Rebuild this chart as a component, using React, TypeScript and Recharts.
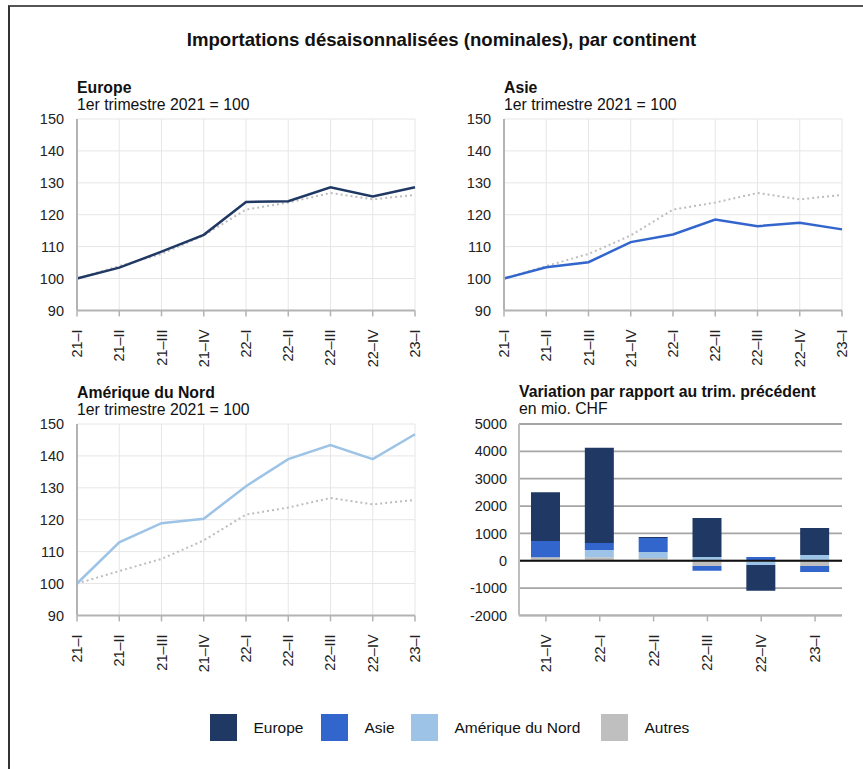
import React from 'react';
import {
  LineChart, Line, BarChart, Bar, XAxis, YAxis, CartesianGrid, ReferenceLine,
} from 'recharts';

const quarters = ['21–I', '21–II', '21–III', '21–IV', '22–I', '22–II', '22–III', '22–IV', '23–I'];
const europe = [100, 103.4, 108.4, 113.7, 124.0, 124.2, 128.6, 125.7, 128.6];
const asie = [100, 103.5, 105.1, 111.4, 113.8, 118.5, 116.4, 117.5, 115.4];
const amerique = [100, 112.9, 118.9, 120.3, 130.5, 139.0, 143.4, 139.0, 146.8];
const total = [100, 103.9, 107.7, 113.5, 121.6, 123.8, 126.8, 124.8, 126.2];

const varQuarters = ['21–IV', '22–I', '22–II', '22–III', '22–IV', '23–I'];
const varEurope = [1780, 3490, 35, 1430, -940, 990];
const varAsie = [590, 255, 515, -175, 135, -220];
const varAmerique = [0, 265, 220, 135, -160, 210];
const varAutres = [130, 125, 100, -195, 0, -195];

const indexTicks = [90, 100, 110, 120, 130, 140, 150];
const varTicks = [-2000, -1000, 0, 1000, 2000, 3000, 4000, 5000];

const C_EUROPE = '#203864';
const C_ASIE = '#3366cc';
const C_AMERIQUE = '#9dc3e6';
const C_AUTRES = '#bfbfbf';
const FONT = '"Liberation Sans", Arial, sans-serif';
const TICK_FS = 14.5;
const TITLE_FS = 15.8;

const lineData = quarters.map((q, i) => ({
  q, europe: europe[i], asie: asie[i], amerique: amerique[i], total: total[i],
}));
const barData = varQuarters.map((q, i) => ({
  q, europe: varEurope[i], asie: varAsie[i], amerique: varAmerique[i], autres: varAutres[i],
}));

const RotTick = ({ x, y, payload }: any) => (
  <text
    x={x} y={y + 11} transform={`rotate(-90 ${x} ${y + 11})`}
    textAnchor="end" dominantBaseline="central"
    fontSize={TICK_FS} fill="#222" fontFamily={FONT}
  >
    {payload.value}
  </text>
);

const tickStyle = { fontSize: TICK_FS, fill: '#222', fontFamily: FONT };

function Titles({ x, y, title, sub }: { x: number; y: number; title: string; sub: string }) {
  // y = baseline of the bold title
  const top = y - TITLE_FS * 0.8465;
  return (
    <>
      <div style={{ position: 'absolute', left: x, top, fontSize: TITLE_FS, lineHeight: `${TITLE_FS}px`, fontWeight: 700, color: '#111', whiteSpace: 'nowrap' }}>
        {title}
      </div>
      <div style={{ position: 'absolute', left: x, top: top + 16.6, fontSize: TITLE_FS, lineHeight: `${TITLE_FS}px`, color: '#111', whiteSpace: 'nowrap' }}>
        {sub}
      </div>
    </>
  );
}

function IndexPanel({ px, py, dataKey, color, title }: any) {
  const w = 338, h = 191.4;
  return (
    <>
      <Titles x={px} y={py - 26} title={title} sub="1er trimestre 2021 = 100" />
      <div style={{ position: 'absolute', left: px - 70, top: py - 10 }}>
        <LineChart width={w + 80} height={h + 70} data={lineData}
          margin={{ top: 10, right: 10, bottom: 10, left: 10 }}>
          <CartesianGrid stroke="#e6e6e6" strokeWidth={1} />
          <XAxis dataKey="q" interval={0} height={50} tick={<RotTick />}
            axisLine={{ stroke: '#b3b3b3', strokeWidth: 2 }}
            tickLine={{ stroke: '#b3b3b3', strokeWidth: 1.5 }} tickSize={6} />
          <YAxis width={60} domain={[90, 150]} ticks={indexTicks} interval={0}
            axisLine={{ stroke: '#b3b3b3', strokeWidth: 2 }} tickLine={false}
            tickMargin={7} tick={tickStyle} allowDataOverflow />
          <Line dataKey="total" stroke="#bdbdbd" strokeWidth={2} strokeDasharray="2 3"
            dot={false} isAnimationActive={false} />
          <Line dataKey={dataKey} stroke={color} strokeWidth={2.5}
            dot={false} isAnimationActive={false} />
        </LineChart>
      </div>
    </>
  );
}

function VarPanel() {
  const px = 519, py = 424.3, w = 323, h = 191.4;
  return (
    <>
      <Titles x={px} y={py - 27} title="Variation par rapport au trim. précédent" sub="en mio. CHF" />
      <div style={{ position: 'absolute', left: px - 70, top: py - 10 }}>
        <BarChart width={w + 80} height={h + 70} data={barData} stackOffset="sign"
          margin={{ top: 10, right: 10, bottom: 10, left: 10 }}>
          <CartesianGrid vertical={false} stroke="#a5a5a5" strokeWidth={1.8} />
          <XAxis dataKey="q" interval={0} height={50} tick={<RotTick />}
            axisLine={{ stroke: '#b3b3b3', strokeWidth: 2 }}
            tickLine={{ stroke: '#b3b3b3', strokeWidth: 1.5 }} tickSize={6} />
          <YAxis width={60} domain={[-2000, 5000]} ticks={varTicks} interval={0}
            axisLine={{ stroke: '#bdbdbd', strokeWidth: 2 }} tickLine={false}
            tickMargin={6} tick={tickStyle} allowDataOverflow />
          <Bar dataKey="autres" stackId="a" fill={C_AUTRES} barSize={29} isAnimationActive={false} />
          <Bar dataKey="amerique" stackId="a" fill={C_AMERIQUE} barSize={29} isAnimationActive={false} />
          <Bar dataKey="asie" stackId="a" fill={C_ASIE} barSize={29} isAnimationActive={false} />
          <Bar dataKey="europe" stackId="a" fill={C_EUROPE} barSize={29} isAnimationActive={false} />
          <ReferenceLine y={0} stroke="#111" strokeWidth={2} />
        </BarChart>
      </div>
    </>
  );
}

const legendItems = [
  { label: 'Europe', color: C_EUROPE, x: 210 },
  { label: 'Asie', color: C_ASIE, x: 321 },
  { label: 'Amérique du Nord', color: C_AMERIQUE, x: 411 },
  { label: 'Autres', color: C_AUTRES, x: 601 },
];

export default function App() {
  return (
    <div style={{ position: 'absolute', left: 0, top: 0, width: 863, height: 769, background: '#fff', fontFamily: FONT, overflow: 'hidden' }}>
      <div style={{ position: 'absolute', left: 8, top: 5, width: 900, height: 800, borderLeft: '2px solid #333', borderTop: '2px solid #555' }} />
      <div style={{ position: 'absolute', left: 20, width: 843, top: 30.5, textAlign: 'center', fontSize: 18.6, lineHeight: '18.6px', fontWeight: 700, color: '#111' }}>
        Importations désaisonnalisées (nominales), par continent
      </div>
      <IndexPanel px={77} py={119.3} dataKey="europe" color={C_EUROPE} title="Europe" />
      <IndexPanel px={504} py={119.3} dataKey="asie" color={C_ASIE} title="Asie" />
      <IndexPanel px={77} py={424.3} dataKey="amerique" color={C_AMERIQUE} title="Amérique du Nord" />
      <VarPanel />
      {legendItems.map((it) => (
        <div key={it.label} style={{ position: 'absolute', left: it.x, top: 714, height: 27, display: 'flex', alignItems: 'center', whiteSpace: 'nowrap' }}>
          <div style={{ width: 27, height: 27, background: it.color }} />
          <span style={{ marginLeft: 16.5, fontSize: 15.5, color: '#111' }}>{it.label}</span>
        </div>
      ))}
    </div>
  );
}
